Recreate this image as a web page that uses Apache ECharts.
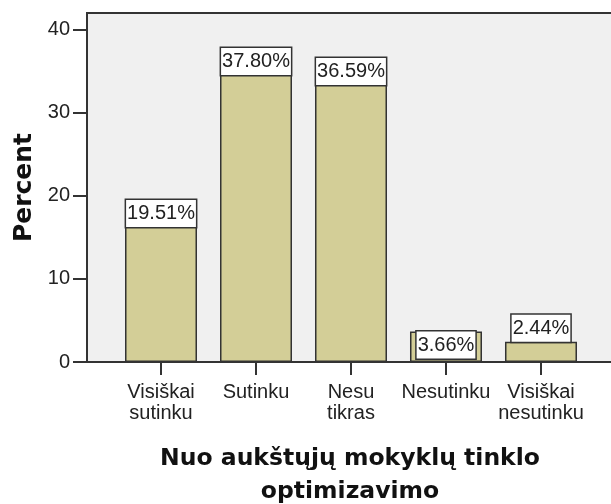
<!DOCTYPE html>
<html>
<head>
<meta charset="utf-8">
<script src="https://cdn.jsdelivr.net/npm/echarts@6/dist/echarts.min.js"></script>
<style>
  html, body { margin: 0; padding: 0; background: #fff; }
  #chart { width: 611px; height: 504px; }
</style>
</head>
<body>
<div id="chart"></div>
<script>
  // categories and percentages
  const categories = ['Visiškai\nsutinku', 'Sutinku', 'Nesu\ntikras', 'Nesutinku', 'Visiškai\nnesutinku'];
  const percents = [19.51, 37.80, 36.59, 3.66, 2.44];
  const yTicks = [0, 10, 20, 30, 40];
  const xTicks = [0, 1, 2, 3, 4];

  const myChart = echarts.init(document.getElementById('chart'));

  let barData = percents.map((v, i) => {
    return {
      value: [i, v],
      label: {
        // short bars get the label above
        position: v > 3 ? 'insideTop' : 'top'
      }
    };
  });

  let option = {
    animation: false,
    grid: {
      left: 87,
      top: 13,
      right: -2,
      bottom: 142,
      outerBoundsMode: 'none',
      show: true,
      backgroundColor: '#f0f0f0',
      borderColor: '#333',
      borderWidth: 2
    },
    xAxis: {
      type: 'value',
      min: -0.779,
      max: 4.758,
      name: 'Nuo aukštųjų mokyklų tinklo\noptimizavimo',
      nameLocation: 'middle',
      nameGap: 80,
      nameTextStyle: {
        fontFamily: 'DejaVu Sans',
        fontWeight: 'bold',
        fontSize: 23.5,
        lineHeight: 33,
        color: '#111'
      },
      splitLine: {show: false},
      axisLine: {show: true, onZero: false, lineStyle: {color: '#333', width: 2}},
      axisTick: {show: true, length: 13, customValues: xTicks, lineStyle: {color: '#333', width: 2}},
      axisLabel: {
        customValues: xTicks,
        formatter: (v) => categories[v],
        fontFamily: 'Liberation Sans',
        fontSize: 20,
        lineHeight: 21,
        color: '#222',
        margin: 20
      }
    },
    yAxis: {
      type: 'value',
      min: 0,
      max: 42,
      name: 'Percent',
      nameLocation: 'middle',
      nameGap: 50,
      nameTextStyle: {
        fontFamily: 'DejaVu Sans',
        fontWeight: 'bold',
        fontSize: 25,
        color: '#111'
      },
      splitLine: {show: false},
      axisLine: {show: true, onZero: false, lineStyle: {color: '#333', width: 2}},
      axisTick: {show: true, length: 14, customValues: yTicks, lineStyle: {color: '#333', width: 2}},
      axisLabel: {
        customValues: yTicks,
        fontFamily: 'Liberation Sans',
        fontSize: 20,
        color: '#222',
        margin: 17
      }
    },
    series: [{
      type: 'bar',
      data: barData,
      barWidth: 72,
      itemStyle: {
        color: '#d3ce97',
        borderColor: '#333',
        borderWidth: 1.5
      },
      label: {
        show: true,
        distance: 0,
        formatter: (p) => p.value[1].toFixed(2) + '%',
        fontFamily: 'Liberation Sans',
        fontSize: 20,
        color: '#222',
        backgroundColor: '#fff',
        borderColor: '#333',
        borderWidth: 1.5,
        padding: [4, 1, 3, 1]
      }
    }]
  };

  myChart.setOption(option);
</script>
</body>
</html>
